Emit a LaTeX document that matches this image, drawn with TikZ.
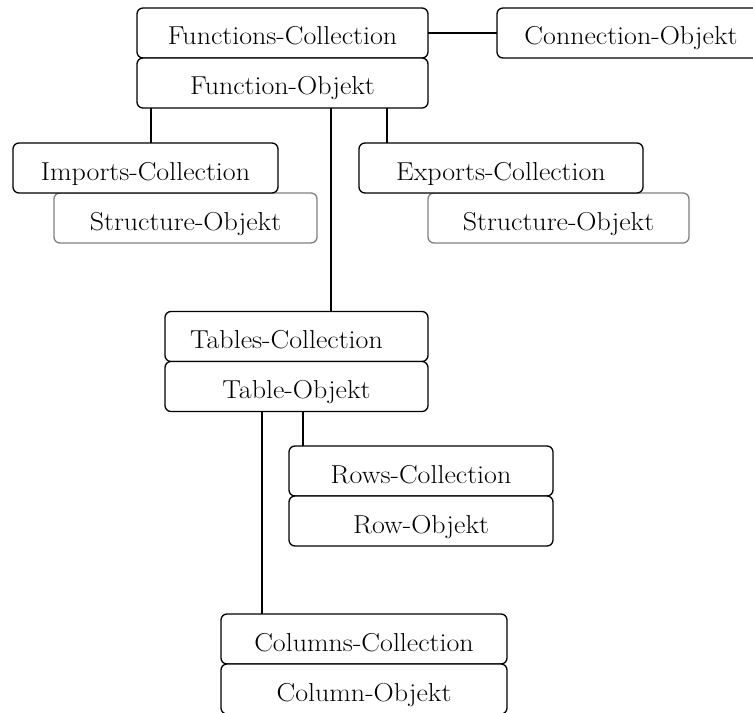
\documentclass[tikz,border=0pt]{standalone}
\usepackage{fontspec}
\setmainfont{Latin Modern Roman}[FakeStretch=1.08]
\begin{document}
\begin{tikzpicture}[x=1bp,y=-1bp,
  every node/.style={inner sep=0pt, outer sep=0pt},
  box/.style={draw=black, line width=1.3bp, rounded corners=6bp, fill=white,
    minimum height=50bp, text height=24bp, text depth=0bp,
    font=\fontsize{26}{31}\selectfont},
  graybox/.style={box, draw=black!50},
  conn/.style={line width=1.3bp, draw=black}]
\useasboundingbox (0,0) rectangle (753,713);
\clip (0,0) rectangle (753,713);
% gray structure boxes (behind)
\node[graybox, minimum width=263bp] (is) at (185.5,218) {Structure-Objekt};
\node[graybox, minimum width=261bp] (es) at (558.5,218) {Structure-Objekt};
% black boxes
\node[box, minimum width=291bp] (fc) at (282.5,33) {Functions-Collection};
\node[box, minimum width=291bp] (fo) at (282.5,83) {Function-Objekt};
\node[box, minimum width=268bp] (co) at (631,33) {Connection-Objekt};
\node[box, minimum width=265bp] (ic) at (145.5,168) {Imports-Collection};
\node[box, minimum width=284bp] (ec) at (501,168) {Exports-Collection};
\node[box, minimum width=263bp] (tc) at (296.5,336.5) {Tables-Collection\kern20bp};
\node[box, minimum width=263bp] (to) at (296.5,386.5) {Table-Objekt};
\node[box, minimum width=264bp] (rc) at (421,471) {Rows-Collection};
\node[box, minimum width=264bp] (ro) at (421,521) {Row-Objekt};
\node[box, minimum width=286bp] (cc) at (364,639) {Columns-Collection};
\node[box, minimum width=286bp] (cl) at (364,689) {Column-Objekt};
% connectors
\draw[conn] (fc.east) -- (co.west);
\draw[conn] (fo.south -| 151,0) -- (ic.north -| 151,0);
\draw[conn] (fo.south -| 331,0) -- (tc.north -| 331,0);
\draw[conn] (fo.south -| 387,0) -- (ec.north -| 387,0);
\draw[conn] (to.south -| 262,0) -- (cc.north -| 262,0);
\draw[conn] (to.south -| 303,0) -- (rc.north -| 303,0);
\end{tikzpicture}
\end{document}
